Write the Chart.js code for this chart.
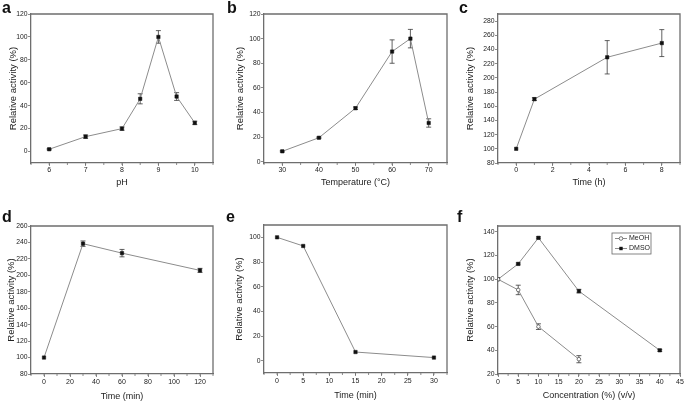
<!DOCTYPE html>
<html>
<head>
<meta charset="utf-8">
<script src="https://cdn.jsdelivr.net/npm/chart.js@4.4.0/dist/chart.umd.min.js"></script>
<style>
  body { margin: 0; background: #fff; }
  #wrap { position: relative; width: 685px; height: 402px; overflow: hidden; }
  canvas { position: absolute; }
  .tag { position: absolute; font: bold 16px "Liberation Sans", Arial, sans-serif; line-height: 16px; color: #111; }
</style>
</head>
<body>
<div id="wrap">
  <canvas id="cA" width="228" height="200" style="left:0;top:0"></canvas>
  <canvas id="cB" width="228" height="200" style="left:228px;top:0"></canvas>
  <canvas id="cC" width="229" height="200" style="left:456px;top:0"></canvas>
  <canvas id="cD" width="228" height="202" style="left:0;top:200px"></canvas>
  <canvas id="cE" width="228" height="202" style="left:228px;top:200px"></canvas>
  <canvas id="cF" width="229" height="202" style="left:456px;top:200px"></canvas>
  <div class="tag" style="left:2px;top:0">a</div>
  <div class="tag" style="left:227px;top:0">b</div>
  <div class="tag" style="left:459px;top:0">c</div>
  <div class="tag" style="left:2px;top:209px">d</div>
  <div class="tag" style="left:226px;top:209px">e</div>
  <div class="tag" style="left:457px;top:209px">f</div>
</div>
<script>
// a: pH
const phX = [6, 7, 8, 8.5, 9, 9.5, 10];
const phY = [2, 13, 20, 46, 100, 48, 25];
const phErr = [0.5, 1.5, 1.5, 4.4, 5.5, 3.4, 1.5];
const phTicks = [6, 7, 8, 9, 10];

// b: temperature
const tempX = [30, 40, 50, 60, 65, 70];
const tempY = [8.5, 19.5, 43.5, 89.5, 100, 31.5];
const tempErr = [0.5, 0.5, 1, 9.5, 7.5, 3.4];
const tempTicks = [30, 40, 50, 60, 70];

// c: time (h)
const hourX = [0, 1, 5, 8];
const hourY = [100, 170, 229, 249];
const hourErr = [0, 2, 23.5, 19];
const hourTicks = [0, 2, 4, 6, 8];

// d: time (min)
const minX = [0, 30, 60, 120];
const minY = [100, 238.5, 227, 206];
const minErr = [0, 3.3, 4.5, 2.5];
const minTicks = [0, 20, 40, 60, 80, 100, 120];

// e: time (min)
const heatX = [0, 5, 15, 30];
const heatY = [100, 93, 7, 2.5];
const heatTicks = [0, 5, 10, 15, 20, 25, 30];

// f: solvent concentration
const meohX = [0, 5, 10, 20];
const meohY = [100, 91, 60, 32.5];
const meohErr = [0, 4, 2.4, 3];
const dmsoX = [0, 5, 10, 20, 40];
const dmsoY = [100, 113, 135, 90, 40];
const dmsoErr = [0, 0.8, 0.8, 1.5, 0.8];
const concTicks = [0, 5, 10, 15, 20, 25, 30, 35, 40, 45];

const act20 = [0, 20, 40, 60, 80, 100, 120];
const actHigh = [80, 100, 120, 140, 160, 180, 200, 220, 240, 260, 280];
const actD = [80, 100, 120, 140, 160, 180, 200, 220, 240, 260];
const actE = [0, 20, 40, 60, 80, 100];
const actF = [20, 40, 60, 80, 100, 120, 140];

const FONT = "'Liberation Sans', Arial, sans-serif";
const AXIS = "#6e6e6e";
const LINE = "#8c8c8c";

const errorBars = {
  id: "errorBars",
  beforeDatasetsDraw(chart) {
    const ctx = chart.ctx, xs = chart.scales.x, ys = chart.scales.y;
    ctx.save();
    ctx.strokeStyle = "#3a3a3a";
    ctx.lineWidth = 0.8;
    chart.data.datasets.forEach(ds => {
      if (!ds.err) return;
      ds.data.forEach((pt, i) => {
        const e = ds.err[i];
        if (!e) return;
        const x = xs.getPixelForValue(pt.x);
        const y1 = ys.getPixelForValue(pt.y - e);
        const y2 = ys.getPixelForValue(pt.y + e);
        ctx.beginPath();
        ctx.moveTo(x, y1); ctx.lineTo(x, y2);
        ctx.moveTo(x - 2.5, y1); ctx.lineTo(x + 2.5, y1);
        ctx.moveTo(x - 2.5, y2); ctx.lineTo(x + 2.5, y2);
        ctx.stroke();
      });
    });
    ctx.restore();
  }
};

// box frame + small x ticks between labels
const frame = {
  id: "frame",
  afterDraw(chart, args, opts) {
    const ctx = chart.ctx, a = chart.chartArea, xs = chart.scales.x;
    ctx.save();
    ctx.strokeStyle = AXIS;
    ctx.lineWidth = 1.3;
    ctx.beginPath();
    ctx.moveTo(a.left, a.top); ctx.lineTo(a.right, a.top); ctx.lineTo(a.right, a.bottom);
    ctx.stroke();
    if (opts.minor) {
      ctx.lineWidth = 0.8;
      ctx.beginPath();
      const start = Math.ceil(xs.min / opts.minor) * opts.minor;
      for (let v = start; v <= xs.max + 1e-9; v += opts.minor) {
        const px = xs.getPixelForValue(v);
        ctx.moveTo(px, a.bottom); ctx.lineTo(px, a.bottom + 2);
      }
      ctx.stroke();
    }
    ctx.restore();
  }
};

const boxLegend = {
  id: "boxLegend",
  afterDraw(chart, args, opts) {
    if (!opts.show) return;
    const ctx = chart.ctx, a = chart.chartArea;
    const x0 = a.right - 68, y0 = a.top + 7;
    ctx.save();
    ctx.strokeStyle = "#666";
    ctx.lineWidth = 0.8;
    ctx.strokeRect(x0, y0, 39, 21);
    chart.data.datasets.forEach((ds, i) => {
      const y = y0 + 5.5 + i * 10;
      ctx.strokeStyle = LINE;
      ctx.lineWidth = 1;
      ctx.beginPath(); ctx.moveTo(x0 + 3, y); ctx.lineTo(x0 + 15, y); ctx.stroke();
      ctx.beginPath();
      if (ds.pointStyle === "circle") {
        ctx.arc(x0 + 9, y, 1.8, 0, Math.PI * 2);
        ctx.fillStyle = "#fff"; ctx.fill();
        ctx.strokeStyle = "#555"; ctx.lineWidth = 0.8; ctx.stroke();
      } else {
        ctx.fillStyle = "#111"; ctx.fillRect(x0 + 7.3, y - 1.7, 3.4, 3.4);
      }
      ctx.fillStyle = "#222";
      ctx.font = "7px " + FONT;
      ctx.textBaseline = "middle";
      ctx.fillText(ds.label, x0 + 17, y);
    });
    ctx.restore();
  }
};

function series(label, xs, ys, err, open) {
  return {
    label: label,
    data: xs.map((v, i) => ({ x: v, y: ys[i] })),
    err: err,
    showLine: true,
    borderColor: LINE,
    borderWidth: 1,
    pointStyle: open ? "circle" : "rect",
    pointRadius: open ? 1.8 : 2.4,
    pointBackgroundColor: open ? "#fff" : "#111",
    pointBorderColor: open ? "#555" : "#111",
    pointBorderWidth: open ? 0.8 : 0.5
  };
}

function makePanel(id, p) {
  const cv = document.getElementById(id);
  const W = cv.width, H = cv.height;
  const [l, t, r, b] = p.area;
  return new Chart(cv, {
    type: "scatter",
    data: { datasets: p.series },
    options: {
      responsive: false,
      animation: false,
      layout: { padding: { left: 0, top: t, right: W - r, bottom: 0 } },
      plugins: {
        legend: { display: false },
        tooltip: { enabled: false },
        frame: { minor: p.minor },
        boxLegend: { show: !!p.legend }
      },
      scales: {
        x: {
          type: "linear",
          min: p.xMin, max: p.xMax,
          afterBuildTicks: s => { s.ticks = p.xTicks.map(v => ({ value: v })); },
          afterFit: s => { s.height = H - b; },
          grid: { drawOnChartArea: false, tickLength: 3, tickColor: AXIS, tickWidth: 0.8 },
          border: { color: AXIS, width: 1.3 },
          ticks: { font: { family: FONT, size: 7 }, color: "#222", padding: p.xPad, maxRotation: 0, autoSkip: false },
          title: { display: true, text: p.xTitle, color: "#222", font: { family: FONT, size: 9 },
                   padding: { top: 0, bottom: H - p.xTitleY - 5.4 } }
        },
        y: {
          type: "linear",
          min: p.yMin, max: p.yMax,
          afterBuildTicks: s => { s.ticks = p.yTicks.map(v => ({ value: v })); },
          afterFit: s => { s.width = l; },
          grid: { drawOnChartArea: false, tickLength: 3, tickColor: AXIS, tickWidth: 0.8 },
          border: { color: AXIS, width: 1.3 },
          ticks: { font: { family: FONT, size: 6.8 }, color: "#222", padding: 0.5, autoSkip: false },
          title: { display: true, text: "Relative activity (%)", color: "#222", font: { family: FONT, size: 9.5 },
                   padding: { top: p.yTitleX - 5.7, bottom: 0 } }
        }
      }
    },
    plugins: [errorBars, frame, boxLegend]
  });
}

makePanel("cA", {
  series: [series("pH", phX, phY, phErr)],
  area: [31, 14, 213, 163], xMin: 5.5, xMax: 10.5, yMin: -10, yMax: 120,
  xTicks: phTicks, yTicks: act20, minor: 0.5, xPad: 0,
  xTitle: "pH", xTitleY: 182.7, yTitleX: 13.5
});
makePanel("cB", {
  series: [series("Temperature", tempX, tempY, tempErr)],
  area: [36, 14, 219, 163], xMin: 25, xMax: 75, yMin: -1, yMax: 120,
  xTicks: tempTicks, yTicks: act20, minor: 5, xPad: 0,
  xTitle: "Temperature (°C)", xTitleY: 183, yTitleX: 12
});
makePanel("cC", {
  series: [series("Time", hourX, hourY, hourErr)],
  area: [42, 14, 224, 163], xMin: -1, xMax: 9, yMin: 80, yMax: 290,
  xTicks: hourTicks, yTicks: actHigh, minor: 1, xPad: 0,
  xTitle: "Time (h)", xTitleY: 183, yTitleX: 14.5
});
makePanel("cD", {
  series: [series("Time", minX, minY, minErr)],
  area: [31, 26, 213, 174], xMin: -10, xMax: 130, yMin: 80, yMax: 260,
  xTicks: minTicks, yTicks: actD, minor: 10, xPad: 1,
  xTitle: "Time (min)", xTitleY: 196.5, yTitleX: 11.5
});
makePanel("cE", {
  series: [series("Time", heatX, heatY, null)],
  area: [36, 25, 219, 173], xMin: -2.5, xMax: 32.5, yMin: -10, yMax: 110,
  xTicks: heatTicks, yTicks: actE, minor: 2.5, xPad: 1,
  xTitle: "Time (min)", xTitleY: 195.5, yTitleX: 11
});
makePanel("cF", {
  series: [series("MeOH", meohX, meohY, meohErr, true), series("DMSO", dmsoX, dmsoY, dmsoErr)],
  area: [42, 26, 224, 174], xMin: 0, xMax: 45, yMin: 20, yMax: 145,
  xTicks: concTicks, yTicks: actF, minor: 2.5, xPad: 1,
  xTitle: "Concentration (%) (v/v)", xTitleY: 195.5, yTitleX: 14.5, legend: true
});
</script>
</body>
</html>
